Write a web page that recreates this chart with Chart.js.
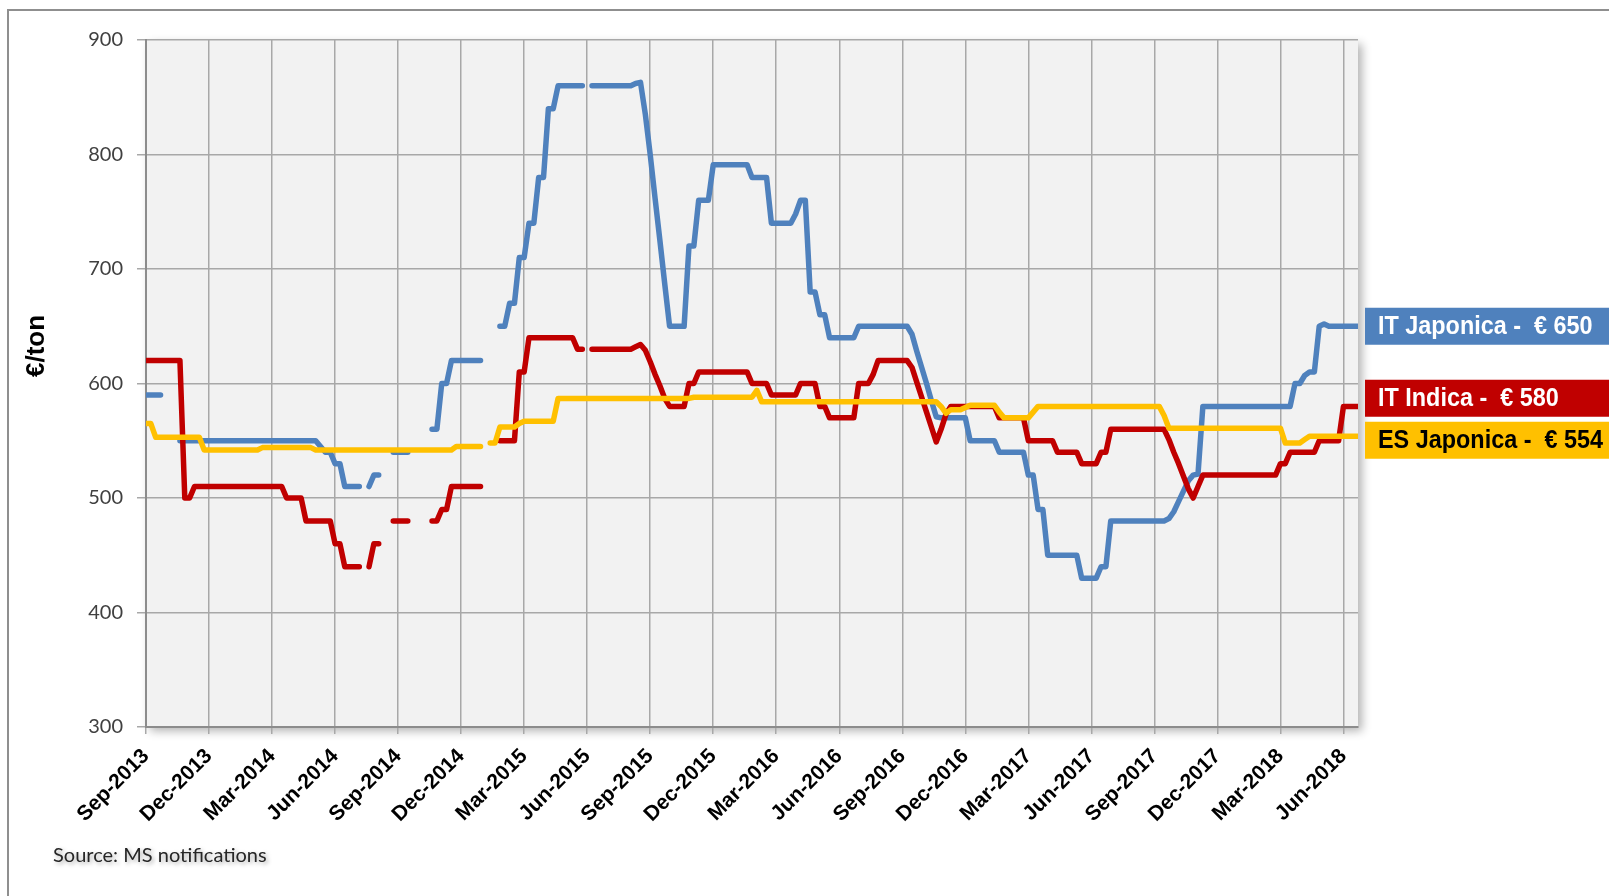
<!DOCTYPE html>
<html><head><meta charset="utf-8">
<script src="https://cdn.jsdelivr.net/npm/chart.js@4.4.1/dist/chart.umd.min.js"></script>
<style>html,body{margin:0;padding:0;background:#fff;}canvas{display:block;}</style>
</head><body>
<canvas id="c" width="1609" height="896"></canvas>
<script>
// Quarterly tick labels (one every 13 weeks)
const tickLabels = ['Sep-2013','Dec-2013','Mar-2014','Jun-2014','Sep-2014','Dec-2014','Mar-2015','Jun-2015','Sep-2015','Dec-2015','Mar-2016','Jun-2016','Sep-2016','Dec-2016','Mar-2017','Jun-2017','Sep-2017','Dec-2017','Mar-2018','Jun-2018'];
const seriesNames = ['IT Japonica','IT Indica','ES Japonica'];

// Weekly prices, EUR/ton (week 0 = Sep-2013), one row per quarter
const itJaponica = [
 590,590,590,590,null,null,null,550,550,550,550,550,550,
 550,550,550,550,550,550,550,550,550,550,550,550,550,
 550,550,550,550,550,550,550,550,550,550,545,540,540,
 530,530,510,510,510,510,null,510,520,520,null,null,540,
 540,540,540,null,null,null,null,560,560,600,600,620,620,
 620,620,620,620,620,null,null,null,650,650,670,670,710,
 710,740,740,780,780,840,840,860,860,860,860,860,860,
 null,860,860,860,860,860,860,860,860,860,862,863,835,
 800,762,725,687,650,650,650,650,720,720,760,760,760,
 791,791,791,791,791,791,791,791,780,780,780,780,740,
 740,740,740,740,748,760,760,680,680,660,660,640,640,
 640,640,640,640,650,650,650,650,650,650,650,650,650,
 650,650,643,628,614,600,585,571,570,570,570,570,570,
 570,550,550,550,550,550,550,540,540,540,540,540,540,
 520,520,490,490,450,450,450,450,450,450,450,430,430,
 430,430,440,440,480,480,480,480,480,480,480,480,480,
 480,480,480,482,488,497,506,515,520,521,580,580,580,
 580,580,580,580,580,580,580,580,580,580,580,580,580,
 580,580,580,600,600,607,610,610,650,652,650,650,650,
 650,650,650,650
];
const itIndica = [
 620,620,620,620,620,620,620,620,500,500,510,510,510,
 510,510,510,510,510,510,510,510,510,510,510,510,510,
 510,510,510,500,500,500,500,480,480,480,480,480,480,
 460,460,440,440,440,440,null,440,460,460,null,null,480,
 480,480,480,null,null,null,null,480,480,490,490,510,510,
 510,510,510,510,510,null,null,null,550,550,550,550,610,
 610,640,640,640,640,640,640,640,640,640,640,630,630,
 null,630,630,630,630,630,630,630,630,630,632,634,629,
 619,608,598,587,580,580,580,580,600,600,610,610,610,
 610,610,610,610,610,610,610,610,600,600,600,600,590,
 590,590,590,590,590,600,600,600,600,580,580,570,570,
 570,570,570,570,600,600,600,608,620,620,620,620,620,
 620,620,614,601,588,575,562,549,560,573,580,580,580,
 580,580,580,580,580,580,580,570,570,570,570,570,570,
 550,550,550,550,550,550,540,540,540,540,540,530,530,
 530,530,540,540,560,560,560,560,560,560,560,560,560,
 560,560,560,551,540,530,519,508,500,510,520,520,520,
 520,520,520,520,520,520,520,520,520,520,520,520,520,
 530,530,540,540,540,540,540,540,550,550,550,550,550,
 580,580,580,580
];
const esJaponica = [
 565,565,553,553,553,553,553,553,553,553,553,553,542,
 542,542,542,542,542,542,542,542,542,542,542,544,544,
 544,544,544,544,544,544,544,544,544,542,542,542,542,
 542,542,542,542,542,542,542,542,542,542,542,542,542,
 542,542,542,542,542,542,542,542,542,542,542,542,545,
 545,545,545,545,545,null,548,548,562,562,562,562,565,
 567,567,567,567,567,567,567,587,587,587,587,587,587,
 587,587,587,587,587,587,587,587,587,587,587,587,587,
 587,587,587,587,587,587,587,587,587,588,588,588,588,
 588,588,588,588,588,588,588,588,588,594,584,584,584,
 584,584,584,584,584,584,584,584,584,584,584,584,584,
 584,584,584,584,584,584,584,584,584,584,584,584,584,
 584,584,584,584,584,584,584,584,580,574,577,577,577,
 579,581,581,581,581,581,581,575,570,570,570,570,570,
 570,575,580,580,580,580,580,580,580,580,580,580,580,
 580,580,580,580,580,580,580,580,580,580,580,580,580,
 580,580,572,561,561,561,561,561,561,561,561,561,561,
 561,561,561,561,561,561,561,561,561,561,561,561,561,
 561,548,548,548,548,551,554,554,554,554,554,554,554,
 554,554,554,554
];

const toPoints = arr => arr.map((v, i) => ({x: i, y: v}));

const plotBackground = {
  id: 'plotBackground',
  beforeDraw(chart) {
    const {ctx, chartArea: a, width, height} = chart;
    ctx.save();
    ctx.strokeStyle = '#8f8f8f';
    ctx.lineWidth = 2;
    ctx.beginPath();
    ctx.moveTo(8, height); ctx.lineTo(8, 10); ctx.lineTo(width, 10);
    ctx.stroke();
    ctx.shadowColor = 'rgba(0,0,0,0.30)';
    ctx.shadowBlur = 9;
    ctx.shadowOffsetX = 4;
    ctx.shadowOffsetY = 4;
    ctx.fillStyle = '#F2F2F2';
    ctx.fillRect(a.left, a.top, a.right - a.left, a.bottom - a.top);
    ctx.restore();
  },
  afterDraw(chart) {
    const {ctx} = chart;
    ctx.save();
    ctx.translate(37, 346);
    ctx.rotate(-Math.PI / 2);
    ctx.fillStyle = '#000';
    ctx.font = 'bold 26px "Liberation Sans", Arial, sans-serif';
    ctx.textAlign = 'center';
    ctx.textBaseline = 'middle';
    ctx.fillText('€/ton', 0, 0);
    ctx.restore();
    ctx.save();
    ctx.font = '20px Lato, "Open Sans", sans-serif';
    ctx.fillStyle = '#262626';
    ctx.textBaseline = 'middle';
    ctx.shadowColor = 'rgba(0,0,0,0.35)';
    ctx.shadowBlur = 4;
    ctx.shadowOffsetX = 2;
    ctx.shadowOffsetY = 2;
    ctx.fillText('Source: MS notifications', 53, 856);
    ctx.restore();
  }
};

const endLabels = {
  id: 'endLabels',
  afterDatasetsDraw(chart, args, opts) {
    const {ctx, chartArea: a, width} = chart;
    const items = chart.data.datasets.map((ds, i) => {
      const meta = chart.getDatasetMeta(i);
      const el = meta.data[meta.data.length - 1];
      const raw = ds.data[ds.data.length - 1].y;
      return {cy: el.y, text: ds.label + ' -  € ' + raw, bg: ds.borderColor, fg: opts.textColors[i]};
    }).sort((p, q) => p.cy - q.cy);
    const h = opts.boxHeight, need = h + opts.gap;
    for (let i = 1; i < items.length; i++) {
      const d = items[i].cy - items[i - 1].cy;
      if (d < need) {
        const ov = need - d;
        items[i - 1].cy -= ov * 2 / 3;
        items[i].cy += ov / 3;
      }
    }
    const left = a.right + 7;
    ctx.save();
    items.forEach(it => {
      ctx.fillStyle = it.bg;
      ctx.fillRect(left, it.cy - h / 2, width - left, h);
      ctx.save();
      ctx.translate(left + 13, it.cy + 1);
      ctx.scale(0.9, 1);
      ctx.fillStyle = it.fg;
      ctx.font = 'bold 26px "Liberation Sans", Arial, sans-serif';
      ctx.textBaseline = 'middle';
      ctx.fillText(it.text, 0, 0);
      ctx.restore();
    });
    ctx.restore();
  }
};

const lineStyle = {borderWidth: 5.5, pointRadius: 0, pointHoverRadius: 0, fill: false, tension: 0,
  borderCapStyle: 'round', borderJoinStyle: 'round', spanGaps: false};

new Chart(document.getElementById('c'), {
  type: 'line',
  data: {
    datasets: [
      Object.assign({label: seriesNames[2], data: toPoints(esJaponica), borderColor: '#FFC000', order: 0}, lineStyle),
      Object.assign({label: seriesNames[1], data: toPoints(itIndica), borderColor: '#C00000', order: 1}, lineStyle),
      Object.assign({label: seriesNames[0], data: toPoints(itJaponica), borderColor: '#4F81BD', order: 2}, lineStyle)
    ]
  },
  options: {
    responsive: false,
    animation: false,
    events: [],
    layout: {padding: {left: 0, right: 251, top: 40, bottom: 0}},
    plugins: {
      legend: {display: false},
      tooltip: {enabled: false},
      endLabels: {boxHeight: 37, gap: 5, textColors: ['#000000', '#FFFFFF', '#FFFFFF']}
    },
    scales: {
      x: {
        type: 'linear', min: 0, max: 250,
        afterBuildTicks: s => { s.ticks = tickLabels.map((_, i) => ({value: i * 13})); },
        afterFit: s => { s.height = 169; },
        ticks: {
          autoSkip: false, minRotation: 45, maxRotation: 45, padding: 10,
          color: '#000',
          font: {family: '"Liberation Sans", Arial, sans-serif', size: 21, weight: 'bold'},
          callback: (v, i) => tickLabels[i]
        },
        grid: {color: '#A8A8A8', lineWidth: 1.5, tickLength: 7},
        border: {display: true, color: '#8C8C8C', width: 2}
      },
      y: {
        min: 300, max: 900,
        afterFit: s => { s.width = 146; },
        ticks: {stepSize: 100, padding: 14, color: '#404040',
          font: {family: 'Lato, "Open Sans", sans-serif', size: 20}},
        grid: {color: '#A8A8A8', lineWidth: 1.5, tickLength: 9},
        border: {display: true, color: '#8C8C8C', width: 2}
      }
    }
  },
  plugins: [plotBackground, endLabels]
});
</script>
</body></html>
